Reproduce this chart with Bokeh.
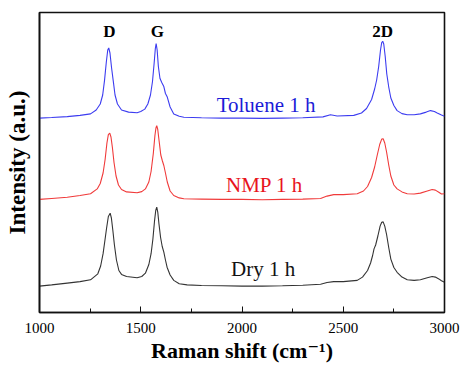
from bokeh.plotting import figure
from bokeh.models import Range1d, FixedTicker
from bokeh.core.properties import value
from bokeh.embed import file_html
from bokeh.resources import INLINE

# Raman shift (cm^-1) and intensities (arbitrary units, stacked offsets)
toluene_x = [1000, 1060, 1137, 1200, 1252, 1280, 1300, 1312, 1321, 1330, 1337, 1342, 1348, 1356, 1364,
             1373, 1385, 1405, 1440, 1482, 1500, 1520, 1535, 1548, 1558, 1566, 1572, 1576, 1581, 1587,
             1595, 1605, 1614, 1622, 1631, 1645, 1663, 1690, 1713, 1800, 1900, 2000, 2100, 2200, 2300,
             2400, 2437, 2470, 2552, 2590, 2615, 2640, 2655, 2665, 2675, 2684, 2690, 2695, 2700, 2707,
             2715, 2725, 2735, 2750, 2766, 2790, 2816, 2850, 2881, 2910, 2931, 2950, 2964, 2985, 3000]
toluene_y = [64.8, 65.0, 65.3, 65.7, 66.2, 67.5, 69.5, 72.5, 77.3, 83.5, 87.5, 88.2, 86.5, 81.5, 77.3,
             72.5, 69.5, 67.5, 66.8, 66.6, 67.0, 67.8, 69.5, 72.5, 77.0, 83.0, 88.0, 89.6, 87.5, 82.0,
             78.0, 76.5, 75.3, 73.0, 71.8, 68.5, 66.2, 65.4, 65.1, 64.9, 64.8, 64.8, 64.7, 64.8, 64.9,
             65.2, 65.9, 65.5, 65.7, 66.5, 68.0, 71.0, 74.5, 77.5, 82.0, 87.5, 90.0, 90.4, 89.5, 85.5,
             79.5, 75.0, 71.5, 69.0, 67.3, 66.3, 65.9, 65.9, 66.2, 66.8, 67.3, 67.0, 66.5, 65.8, 65.4]

nmp_x = [1000, 1060, 1137, 1200, 1252, 1285, 1300, 1314, 1324, 1333, 1340, 1347, 1353, 1360, 1368,
         1378, 1390, 1405, 1430, 1482, 1505, 1523, 1540, 1551, 1562, 1570, 1575, 1579, 1584, 1591,
         1599, 1607, 1614, 1622, 1631, 1645, 1663, 1690, 1713, 1800, 1900, 2000, 2100, 2200, 2300,
         2388, 2420, 2453, 2500, 2569, 2600, 2620, 2640, 2655, 2668, 2680, 2690, 2697, 2705, 2714,
         2725, 2735, 2750, 2766, 2790, 2816, 2850, 2881, 2915, 2939, 2955, 2972, 2985, 3000]
nmp_y = [37.7, 38.0, 38.4, 39.0, 39.6, 41.2, 43.0, 46.5, 51.0, 56.5, 59.3, 59.8, 58.5, 55.0, 50.0,
         45.5, 42.5, 41.0, 40.2, 39.9, 40.3, 41.2, 43.5, 47.0, 53.0, 59.0, 61.5, 62.3, 61.0, 57.0,
         52.5, 50.5, 49.0, 46.5, 43.5, 40.5, 39.0, 38.2, 37.9, 37.8, 37.7, 37.7, 37.6, 37.7, 37.8,
         38.0, 38.8, 39.3, 39.3, 39.6, 40.5, 42.0, 45.0, 48.5, 52.5, 56.0, 57.8, 57.9, 56.5, 53.5,
         49.0, 45.5, 42.5, 41.2, 40.2, 39.6, 39.5, 39.8, 40.5, 41.0, 40.8, 40.1, 39.5, 39.6]

dry_x = [1000, 1060, 1137, 1200, 1252, 1288, 1302, 1314, 1323, 1331, 1340, 1349, 1355, 1362, 1370,
         1380, 1392, 1405, 1430, 1482, 1505, 1523, 1540, 1551, 1560, 1568, 1574, 1579, 1584, 1590,
         1598, 1606, 1614, 1622, 1630, 1645, 1663, 1690, 1729, 1800, 1900, 2000, 2100, 2200, 2300,
         2388, 2420, 2453, 2500, 2569, 2595, 2620, 2635, 2645, 2652, 2660, 2671, 2682, 2690, 2697,
         2705, 2714, 2725, 2735, 2750, 2766, 2790, 2816, 2850, 2881, 2915, 2939, 2955, 2972, 2985, 3000]
dry_y = [8.8, 9.2, 9.8, 10.3, 10.9, 12.9, 15.5, 19.6, 24.0, 28.0, 32.0, 33.1, 31.5, 27.5, 22.5,
         17.5, 14.0, 12.7, 12.0, 11.6, 12.0, 13.1, 16.0, 19.6, 24.5, 30.5, 34.0, 35.1, 33.5, 29.5,
         25.0, 22.0, 20.1, 17.5, 15.1, 12.5, 10.7, 9.6, 9.2, 9.0, 8.9, 8.8, 8.8, 8.9, 9.1,
         9.4, 10.0, 10.3, 10.3, 10.7, 11.8, 14.0, 16.5, 19.0, 21.2, 22.5, 25.5, 28.8, 30.1, 30.2,
         28.8, 26.0, 21.5, 17.8, 15.0, 13.4, 11.8, 10.9, 10.7, 10.9, 11.6, 12.0, 11.8, 11.2, 10.6, 10.1]

peak_labels = ["D", "G", "2D"]
peak_x = [1345, 1582, 2695]
peak_y = [93.8, 93.8, 93.8]

series_names = ["Toluene 1 h", "NMP 1 h", "Dry 1 h"]
series_label_x = [2119, 2111, 2104]
series_label_y = [69.3, 42.6, 14.6]

x_ticks = [1000, 1500, 2000, 2500, 3000]
x_minor_ticks = [1250, 1750, 2250, 2750]
x_title = "Raman shift (cm\u207b\u00b9)"
y_title = "Intensity (a.u.)"

SERIF = "Liberation Serif, Times New Roman, DejaVu Serif, serif"

p = figure(width=460, height=366, output_backend="svg", toolbar_location=None,
           x_range=Range1d(1000, 3000), y_range=Range1d(0, 100),
           min_border_left=39, min_border_right=16, min_border_top=12, min_border_bottom=54)
p.background_fill_color = "white"
p.border_fill_color = "white"
p.grid.visible = False
p.outline_line_color = "#111111"
p.outline_line_width = 1.6

p.line(toluene_x, toluene_y, line_color="#3c3cf0", line_width=1.1)
p.line(nmp_x, nmp_y, line_color="#f03a3a", line_width=1.1)
p.line(dry_x, dry_y, line_color="#333333", line_width=1.1)

p.text(x=peak_x, y=peak_y, text=peak_labels, text_font=value(SERIF), text_font_style="bold",
       text_font_size="17px", text_align="center", text_baseline="middle", text_color="black")

p.text(x=series_label_x, y=series_label_y, text=series_names, text_font=value(SERIF),
       text_font_size="21px", text_align="center", text_baseline="middle",
       text_color=["#1c1cd8", "#e8141c", "#111111"])

xa = p.xaxis[0]
xa.ticker = FixedTicker(ticks=x_ticks, minor_ticks=x_minor_ticks)
xa.major_tick_in = 6
xa.major_tick_out = 0
xa.minor_tick_in = 4
xa.minor_tick_out = 0
xa.major_tick_line_color = "#111111"
xa.minor_tick_line_color = "#111111"
xa.axis_line_color = "#111111"
xa.axis_line_width = 1.6
xa.major_label_text_font = SERIF
xa.major_label_text_font_size = "15px"
xa.major_label_text_color = "black"
xa.major_label_standoff = 10
xa.axis_label = x_title
xa.axis_label_text_font = SERIF
xa.axis_label_text_font_style = "bold"
xa.axis_label_text_font_size = "22px"
xa.axis_label_text_color = "black"
xa.axis_label_standoff = 2

ya = p.yaxis[0]
ya.ticker = FixedTicker(ticks=[])
ya.major_tick_in = 0
ya.major_tick_out = 0
ya.minor_tick_in = 0
ya.minor_tick_out = 0
ya.axis_line_color = "#111111"
ya.axis_line_width = 1.6
ya.axis_label = y_title
ya.axis_label_text_font = SERIF
ya.axis_label_text_font_style = "bold"
ya.axis_label_text_font_size = "23px"
ya.axis_label_text_color = "black"
ya.axis_label_standoff = 10

open("out.html", "w").write(file_html(p, INLINE))
